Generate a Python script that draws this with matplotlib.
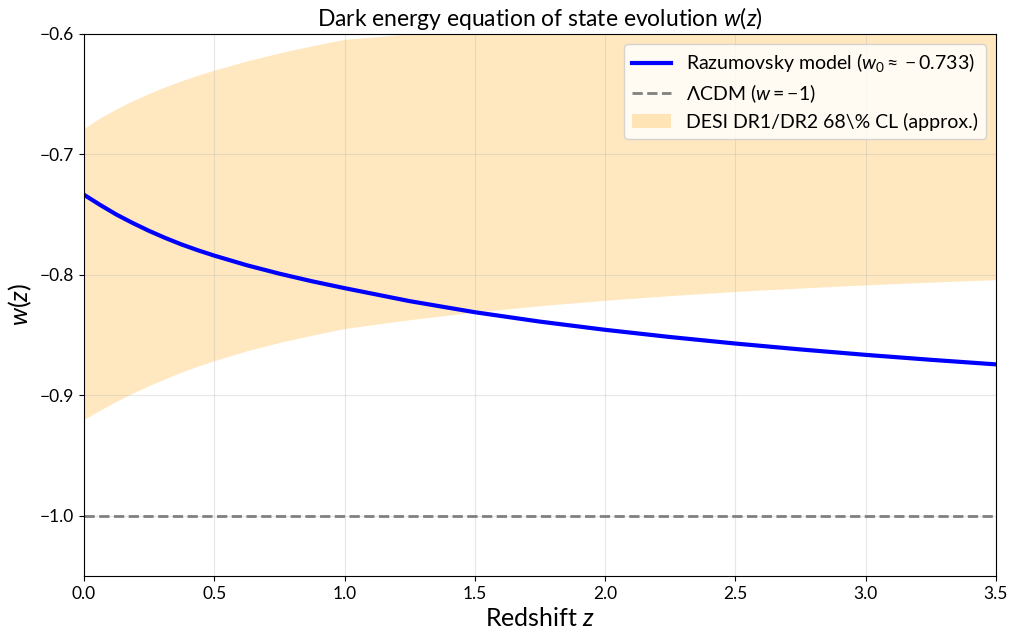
import matplotlib
matplotlib.use("Agg")
import matplotlib.pyplot as plt

plt.rcParams['font.family'] = ['Lato', 'DejaVu Sans']
plt.rcParams['mathtext.fontset'] = 'custom'
plt.rcParams['mathtext.rm'] = 'Lato'
plt.rcParams['mathtext.it'] = 'Lato:italic'
plt.rcParams['mathtext.bf'] = 'Lato:bold'

# values
z = [0.0, 0.0625, 0.125, 0.1875, 0.25, 0.3125, 0.375, 0.4375, 0.5, 0.625, 0.75, 0.875, 1.0,
     1.25, 1.5, 1.75, 2.0, 2.25, 2.5, 2.75, 3.0, 3.25, 3.5]
w_model = [-0.7335, -0.742, -0.750, -0.757, -0.7635, -0.7694, -0.7748, -0.7796, -0.784,
           -0.792, -0.799, -0.8053, -0.811,
           -0.8218, -0.831, -0.8388, -0.8456, -0.8516, -0.857, -0.8619, -0.8664, -0.8705, -0.8743]
band_lo = [-0.920, -0.9122, -0.9049, -0.8981, -0.8919, -0.8861, -0.8807, -0.8757, -0.8712,
           -0.8631, -0.8561, -0.8501, -0.8445,
           -0.8372, -0.8309, -0.8256, -0.8211, -0.8172, -0.8138, -0.8109, -0.8083, -0.806, -0.804]
band_hi = [-0.6783, -0.6695, -0.6621, -0.6553, -0.6493, -0.6438, -0.6388, -0.6342, -0.630,
           -0.6224, -0.6157, -0.6098, -0.6044,
           -0.6000, -0.596, -0.592, -0.589, -0.586, -0.583, -0.580, -0.578, -0.576, -0.574]
w_lcdm = -1.0

fig = plt.figure(figsize=(10.11, 6.39), dpi=100)
ax = fig.add_axes([0.0831, 0.0986, 0.902, 0.8482])

ax.fill_between(z, band_lo, band_hi, color='orange', alpha=0.25, linewidth=0,
                label='DESI DR1/DR2 68\\% CL (approx.)')
ax.plot(z, w_model, color='blue', lw=3, label=r'Razumovsky model ($w_0 \approx -0.733$)')
ax.axhline(w_lcdm, color='gray', ls='--', lw=2, label=r'$\Lambda$CDM ($w=-1$)')

ax.set_xlim(0, 3.5)
ax.set_ylim(-1.05, -0.6)
ax.set_xlabel(r'Redshift $z$', fontsize=18)
ax.set_ylabel(r'$w(z)$', fontsize=18)
ax.set_title(r'Dark energy equation of state evolution $w(z)$', fontsize=16.5)
ax.tick_params(labelsize=12.5)
ax.grid(True, alpha=0.3)

h, l = ax.get_legend_handles_labels()
ax.legend([h[1], h[2], h[0]], [l[1], l[2], l[0]], loc='upper right', fontsize=14,
          labelspacing=0.4)

fig.savefig('out.png', dpi=100)
